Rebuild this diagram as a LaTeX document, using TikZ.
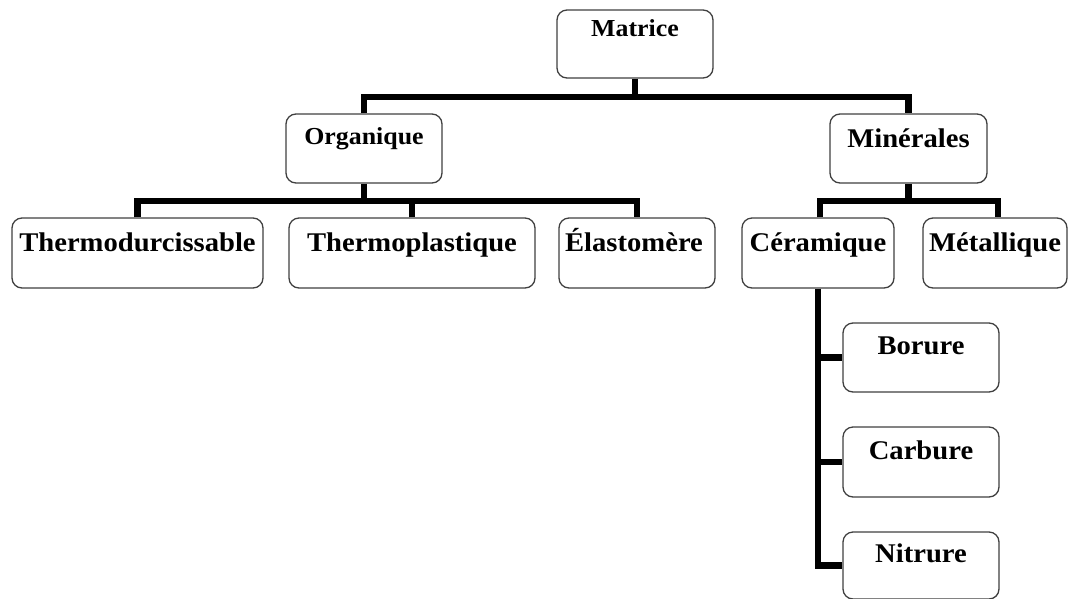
\documentclass[tikz,border=0pt]{standalone}
\usepackage{fontspec}
\setmainfont[FakeStretch=1.06]{Liberation Serif}
\begin{document}
\begin{tikzpicture}[x=1pt,y=-1pt,
  box/.style={draw=black!75, line width=1.3pt, rounded corners=10pt, inner sep=0pt, fill=white},
  lblsmall/.style={anchor=base, inner sep=0pt, font=\fontsize{24.4}{28}\selectfont\bfseries},
  lbl/.style={anchor=base, inner sep=0pt, font=\fontsize{27}{31}\selectfont\bfseries},
  conn/.style={line width=6.5pt, black}]
\useasboundingbox (0,0) rectangle (1069,598);
% boxes
\node[box, minimum width=156pt, minimum height=68pt] (matrice) at (635,44) {};
\node[box, minimum width=156pt, minimum height=69pt] (organique) at (364,148.5) {};
\node[box, minimum width=157pt, minimum height=69pt] (minerales) at (908.5,148.5) {};
\node[box, minimum width=251pt, minimum height=70pt] (thermod) at (137.5,253) {};
\node[box, minimum width=246pt, minimum height=70pt] (thermop) at (412,253) {};
\node[box, minimum width=156pt, minimum height=70pt] (elast) at (637,253) {};
\node[box, minimum width=152pt, minimum height=70pt] (ceram) at (818,253) {};
\node[box, minimum width=144pt, minimum height=70pt] (metal) at (995,253) {};
\node[box, minimum width=156pt, minimum height=69pt] (borure) at (921,357.5) {};
\node[box, minimum width=156pt, minimum height=70pt] (carbure) at (921,462) {};
\node[box, minimum width=156pt, minimum height=67pt] (nitrure) at (921,565.5) {};
% labels
\node[lblsmall] (tmatrice) at ([yshift=-27pt]matrice.north) {Matrice};
\node[lblsmall] (torganique) at ([yshift=-31pt]organique.north) {Organique};
\node[lbl] (tminerales) at ([yshift=-34pt]minerales.north) {Minérales};
\node[lbl] (tthermod) at ([yshift=-34pt]thermod.north) {Thermodurcissable};
\node[lbl] (tthermop) at ([yshift=-34pt]thermop.north) {Thermoplastique};
\node[lbl] (telast) at ([yshift=-34pt,xshift=-3pt]elast.north) {Élastomère};
\node[lbl] (tceram) at ([yshift=-34pt]ceram.north) {Céramique};
\node[lbl] (tmetal) at ([yshift=-34pt]metal.north) {Métallique};
\node[lbl] (tborure) at ([yshift=-32pt]borure.north) {Borure};
\node[lbl] (tcarbure) at ([yshift=-33pt]carbure.north) {Carbure};
\node[lbl] (tnitrure) at ([yshift=-31pt]nitrure.north) {Nitrure};
% connectors
\coordinate (bar1) at (0,97);
\coordinate (bar2) at (0,201);
\draw[conn] (matrice.south) -- (matrice.south |- bar1);
\draw[conn] (organique.north) -- (organique.north |- bar1) -- (minerales.north |- bar1) -- (minerales.north);
\draw[conn] (organique.south) -- (organique.south |- bar2);
\draw[conn] (thermod.north) -- (thermod.north |- bar2) -- (elast.north |- bar2) -- (elast.north);
\draw[conn] (thermop.north) -- (thermop.north |- bar2);
\draw[conn] (minerales.south) -- (minerales.south |- bar2);
\draw[conn] ([xshift=2pt]ceram.north) -- ([xshift=2pt]ceram.north |- bar2) -- ([xshift=3pt]metal.north |- bar2) -- ([xshift=3pt]metal.north);
\draw[conn] (ceram.south) -- (ceram.south |- nitrure.west) -- (nitrure.west);
\draw[conn] (ceram.south |- borure.west) -- (borure.west);
\draw[conn] (ceram.south |- carbure.west) -- (carbure.west);
\end{tikzpicture}
\end{document}
